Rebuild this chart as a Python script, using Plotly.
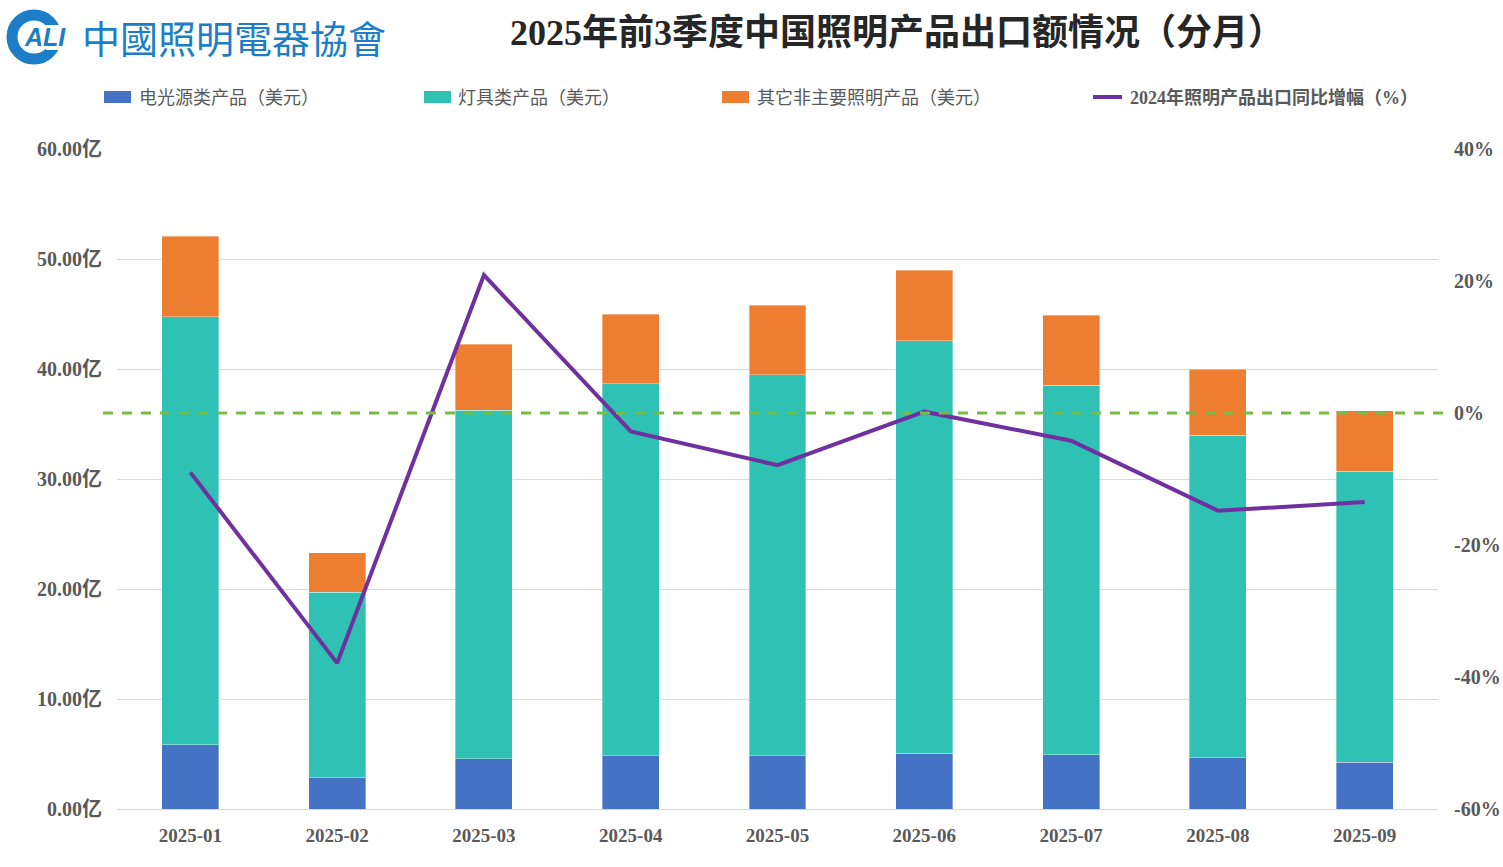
import plotly.graph_objects as go

months = ["2025-01", "2025-02", "2025-03", "2025-04", "2025-05", "2025-06", "2025-07", "2025-08", "2025-09"]
light_source = [5.82, 2.82, 4.55, 4.82, 4.82, 5.09, 4.91, 4.64, 4.27]
luminaires = [38.94, 16.88, 31.72, 33.82, 34.66, 37.46, 33.61, 29.36, 26.43]
other_products = [7.33, 3.60, 6.00, 6.33, 6.31, 6.45, 6.36, 6.00, 5.51]
yoy_growth = [-9.0, -37.9, 20.9, -2.8, -7.9, 0.2, -4.2, -14.8, -13.5]

left_tickvals = [0, 10, 20, 30, 40, 50, 60]
left_ticktext = ["0.00亿", "10.00亿", "20.00亿", "30.00亿", "40.00亿", "50.00亿", "60.00亿"]
right_tickvals = [-60, -40, -20, 0, 20, 40]
right_ticktext = ["-60%", "-40%", "-20%", "0%", "20%", "40%"]

names = ["电光源类产品（美元）", "灯具类产品（美元）", "其它非主要照明产品（美元）", "2024年照明产品出口同比增幅（%）"]
colors = ["#4472C4", "#2FC1B3", "#ED7D31", "#7030A0"]

W, H = 1503, 867
L, R, T, B = 117, 65, 149, 58
PW, PH = W - L - R, H - T - B


def px(x):
    return (x - L) / PW


def py(y):
    return (H - B - y) / PH


SERIF = "Liberation Serif, 'Times New Roman', 'Noto Sans CJK SC', serif"
TXT = "#595959"

fig = go.Figure()
for vals, nm, c in zip([light_source, luminaires, other_products], names[:3], colors[:3]):
    fig.add_trace(go.Bar(x=months, y=vals, name=nm, marker=dict(color=c, line=dict(width=0.6, color="rgba(255,255,255,0.6)")),
                         showlegend=False, yaxis="y"))
fig.add_trace(go.Scatter(x=months, y=yoy_growth, name=names[3], mode="lines",
                         line=dict(color=colors[3], width=4), yaxis="y2", showlegend=False))

shapes = []
annotations = []

# zero reference dashed line
shapes.append(dict(type="line", xref="paper", yref="y2", x0=px(103), x1=px(1446), y0=0, y1=0,
                   line=dict(color="#76BD43", width=3, dash="10px,9px"), layer="above"))

# manual legend
leg = [(104, 137), (424, 456), (722, 755), (1093, 1128)]
for i, (x0, xt) in enumerate(leg):
    if i < 3:
        shapes.append(dict(type="rect", xref="paper", yref="paper", x0=px(x0), x1=px(x0 + 27),
                           y0=py(103), y1=py(91), fillcolor=colors[i], line=dict(width=0)))
    else:
        shapes.append(dict(type="line", xref="paper", yref="paper", x0=px(x0), x1=px(x0 + 29),
                           y0=py(97), y1=py(97), line=dict(color=colors[i], width=4)))
    annotations.append(dict(xref="paper", yref="paper", x=px(xt), y=py(98), xanchor="left", yanchor="middle",
                            text=names[i], showarrow=False,
                            font=dict(family=SERIF, size=18, color=TXT, weight="bold" if i == 3 else "normal")))

# title
annotations.append(dict(xref="paper", yref="paper", x=px(897), y=py(33), xanchor="center", yanchor="middle",
                        text="<b>2025年前3季度中国照明产品出口额情况（分月）</b>", showarrow=False,
                        font=dict(family=SERIF, size=36, color="#262626")))

# logo
LOGO = "#1B7EC6"
cx, cy, r = 34, 37, 22
shapes.append(dict(type="circle", xref="paper", yref="paper", x0=px(cx - r), x1=px(cx + r), y0=py(cy + r), y1=py(cy - r),
                   line=dict(color=LOGO, width=11), fillcolor="rgba(0,0,0,0)"))
shapes.append(dict(type="rect", xref="paper", yref="paper", x0=px(46), x1=px(72), y0=py(50), y1=py(25),
                   fillcolor="white", line=dict(width=0)))
annotations.append(dict(xref="paper", yref="paper", x=px(22), y=py(37), xanchor="left", yanchor="middle",
                        text="<b><i>ALI</i></b>", showarrow=False,
                        font=dict(family="Liberation Sans, Arial, sans-serif", size=25, color=LOGO)))
annotations.append(dict(xref="paper", yref="paper", x=px(80), y=py(36), xanchor="left", yanchor="middle",
                        text="中國照明電器協會", showarrow=False,
                        font=dict(family="'Noto Sans CJK TC', sans-serif", size=38, color=LOGO)))

fig.update_layout(
    width=W, height=H,
    margin=dict(l=L, r=R, t=T, b=B, pad=0),
    paper_bgcolor="white", plot_bgcolor="white",
    barmode="stack", bargap=0.612,
    showlegend=False,
    shapes=shapes, annotations=annotations,
    xaxis=dict(type="category", showgrid=False, showline=True, linecolor="#D9D9D9", linewidth=1, ticks="",
               automargin=False,
               tickfont=dict(family=SERIF, size=19, color=TXT, weight="bold"), ticklabelstandoff=9),
    yaxis=dict(range=[0, 60], tickvals=left_tickvals, ticktext=left_ticktext, showgrid=True, automargin=False,
               gridcolor="#D9D9D9", gridwidth=1, zeroline=False, showline=False, ticks="",
               tickfont=dict(family=SERIF, size=20, color=TXT, weight="bold"), ticklabelstandoff=14),
    yaxis2=dict(range=[-60, 40], tickvals=right_tickvals, ticktext=right_ticktext, overlaying="y", side="right",
                showgrid=False, zeroline=False, showline=False, ticks="", automargin=False,
                tickfont=dict(family=SERIF, size=20, color=TXT, weight="bold"), ticklabelstandoff=15),
)

fig.write_html("out.html")
